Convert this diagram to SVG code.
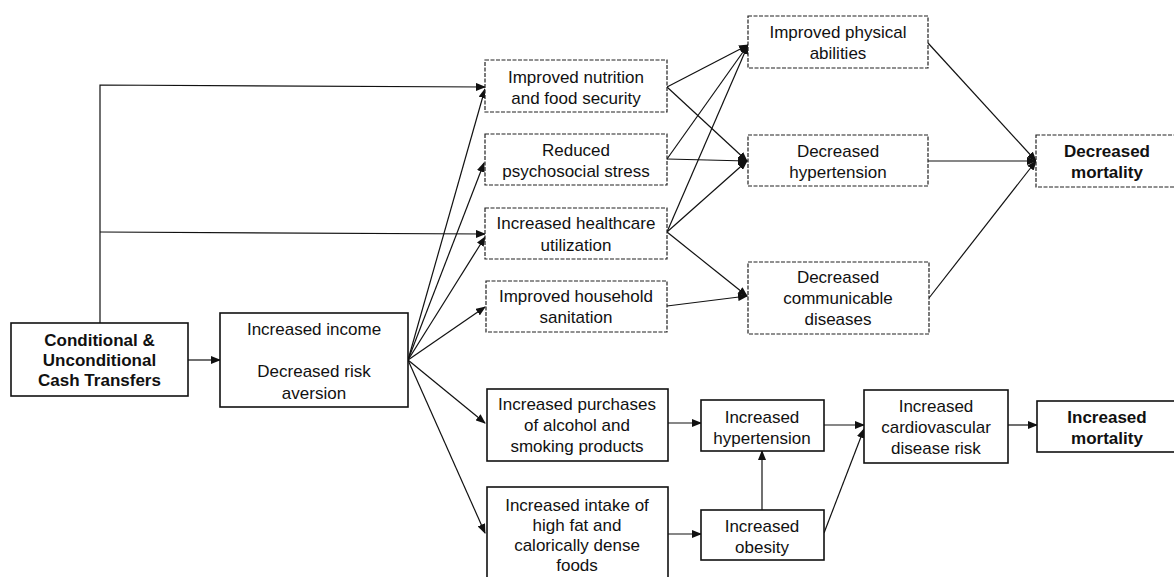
<svg xmlns="http://www.w3.org/2000/svg" width="1174" height="577" viewBox="0 0 1174 577">
<style>
.bg{fill:#fff}
.solid{fill:#fff;stroke:#111;stroke-width:1.6}
.dash{fill:#fff;stroke:#222;stroke-width:1.2;stroke-dasharray:4 1.5}
text{font-family:"Liberation Sans",Arial,sans-serif;font-size:17px;fill:#111;text-anchor:middle}
.b{font-weight:bold}
.c line,.c polyline{stroke:#111;stroke-width:1.2;fill:none;marker-end:url(#ah)}
</style>
<defs>
<marker id="ah" markerUnits="userSpaceOnUse" markerWidth="10" markerHeight="8" refX="9" refY="4" orient="auto">
<path d="M0,0 L10,4 L0,8 Z" fill="#111"/>
</marker>
</defs>
<rect class="bg" width="1174" height="577"/>
<g class="c" id="connectors">
<polyline points="100,323 100,85 485,87"/>
<line x1="100" y1="232" x2="485" y2="234"/>
<line x1="188" y1="360" x2="220" y2="360"/>
<line x1="408" y1="360" x2="485" y2="89"/>
<line x1="408" y1="360" x2="484" y2="163"/>
<line x1="408" y1="360" x2="485" y2="237"/>
<line x1="408" y1="360" x2="485" y2="307"/>
<line x1="408" y1="360" x2="485" y2="423"/>
<line x1="408" y1="360" x2="485" y2="533"/>
<line x1="667" y1="87" x2="748" y2="45"/>
<line x1="667" y1="159" x2="748" y2="45"/>
<line x1="667" y1="232" x2="748" y2="45"/>
<line x1="667" y1="87" x2="747" y2="161"/>
<line x1="667" y1="159" x2="747" y2="161"/>
<line x1="667" y1="232" x2="747" y2="161"/>
<line x1="667" y1="232" x2="747" y2="296"/>
<line x1="667" y1="306" x2="747" y2="296"/>
<line x1="928" y1="43" x2="1036" y2="161"/>
<line x1="928" y1="161" x2="1036" y2="161"/>
<line x1="929" y1="298" x2="1036" y2="161"/>
<line x1="668" y1="423" x2="701" y2="423"/>
<line x1="668" y1="534" x2="701" y2="534"/>
<line x1="762" y1="510" x2="762" y2="451"/>
<line x1="824" y1="425" x2="864" y2="425"/>
<line x1="824" y1="533" x2="864" y2="429"/>
<line x1="1008" y1="425" x2="1037" y2="425"/>
</g>
<g id="cct"><rect class="solid" x="11" y="323" width="177" height="73"/>
<text class="b" x="99.5" y="346">Conditional &amp;</text><text class="b" x="99.5" y="366">Unconditional</text><text class="b" x="99.5" y="386">Cash Transfers</text></g>
<g id="income"><rect class="solid" x="220" y="313" width="188" height="94"/>
<text x="314" y="335">Increased income</text><text x="314" y="377">Decreased risk</text><text x="314" y="399">aversion</text></g>
<g id="nutrition"><rect class="dash" x="485" y="60" width="182" height="52"/>
<text x="576" y="83">Improved nutrition</text><text x="576" y="104">and food security</text></g>
<g id="stress"><rect class="dash" x="485" y="134" width="182" height="51"/>
<text x="576" y="156">Reduced</text><text x="576" y="177">psychosocial stress</text></g>
<g id="healthcare"><rect class="dash" x="485" y="208" width="182" height="51"/>
<text x="576" y="229">Increased healthcare</text><text x="576" y="251">utilization</text></g>
<g id="sanitation"><rect class="dash" x="486" y="281" width="181" height="51"/>
<text x="576" y="302">Improved household</text><text x="576" y="323">sanitation</text></g>
<g id="physical"><rect class="dash" x="748" y="16" width="180" height="52"/>
<text x="838" y="38">Improved physical</text><text x="838" y="59">abilities</text></g>
<g id="dhyper"><rect class="dash" x="748" y="135" width="180" height="51"/>
<text x="838" y="157">Decreased</text><text x="838" y="178">hypertension</text></g>
<g id="communicable"><rect class="dash" x="748" y="262" width="181" height="72"/>
<text x="838" y="283">Decreased</text><text x="838" y="304">communicable</text><text x="838" y="325">diseases</text></g>
<g id="dmortality"><rect class="dash" x="1036" y="135" width="142" height="52"/>
<text class="b" x="1107" y="157">Decreased</text><text class="b" x="1107" y="178">mortality</text></g>
<g id="purchases"><rect class="solid" x="487" y="389" width="181" height="72"/>
<text x="577" y="410">Increased purchases</text><text x="577" y="431">of alcohol and</text><text x="577" y="452">smoking products</text></g>
<g id="intake"><rect class="solid" x="487" y="487" width="181" height="95"/>
<text x="577" y="511">Increased intake of</text><text x="577" y="531">high fat and</text><text x="577" y="551">calorically dense</text><text x="577" y="571">foods</text></g>
<g id="ihyper"><rect class="solid" x="701" y="400" width="123" height="51"/>
<text x="762" y="423">Increased</text><text x="762" y="444">hypertension</text></g>
<g id="obesity"><rect class="solid" x="701" y="510" width="123" height="50"/>
<text x="762" y="532">Increased</text><text x="762" y="553">obesity</text></g>
<g id="cvd"><rect class="solid" x="864" y="390" width="144" height="73"/>
<text x="936" y="412">Increased</text><text x="936" y="433">cardiovascular</text><text x="936" y="454">disease risk</text></g>
<g id="imortality"><rect class="solid" x="1037" y="401" width="141" height="51"/>
<text class="b" x="1107" y="423">Increased</text><text class="b" x="1107" y="444">mortality</text></g>
</svg>
